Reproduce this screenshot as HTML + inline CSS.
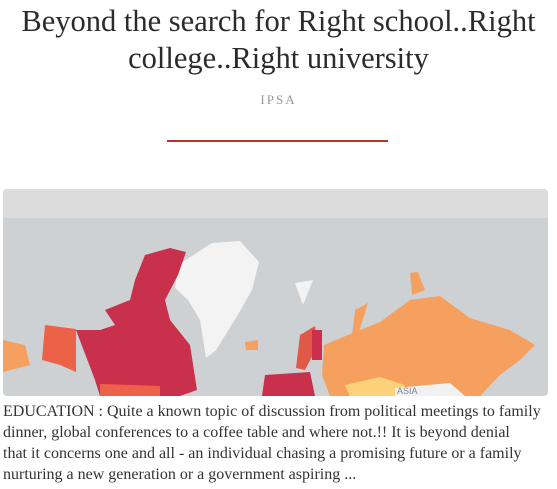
<!DOCTYPE html>
<html><head><meta charset="utf-8"><style>
body{margin:0;width:557px;height:489px;background:#fff;overflow:hidden;position:relative;font-family:"Liberation Serif",serif}
#title{position:absolute;left:0;top:3px;width:557px;text-align:center;font-size:30.5px;line-height:37px;color:#2b2b2b;margin:0;font-weight:normal}
#author{position:absolute;top:92px;width:557px;text-align:center;font-size:13px;letter-spacing:2px;color:#999}
#rule{position:absolute;left:167px;top:140px;width:221px;height:2px;background:#b8332c}
#map{position:absolute;left:3px;top:189px;width:545px;height:207px;border-radius:4px;overflow:hidden}
#desc{position:absolute;left:3px;top:401px;width:556px;font-size:16px;line-height:21px;color:#333;white-space:nowrap}
</style></head><body>
<h1 id="title">Beyond the search for Right school..Right college..Right university</h1>
<div id="author">IPSA</div>
<div id="rule"></div>
<div id="map">
<svg width="545" height="207" viewBox="3 189 545 207">
<rect x="3" y="189" width="545" height="207" fill="#cdd1d4"/>
<rect x="3" y="189" width="545" height="29" fill="#dcdcdc"/>
<path fill="#f3f3f3" d="M212,243 L240,241 L259,262 L252,290 L236,318 L216,350 L206,358 L200,320 L188,300 L175,288 L178,265 Z"/>
<path fill="#c8304c" d="M145,255 L170,248 L186,252 L178,275 L165,300 L170,320 L190,345 L197,390 L180,396 L100,396 L95,380 L76,330 L100,330 L115,325 L105,310 L130,300 L135,280 Z"/>
<path fill="#ec6248" d="M45,325 L76,329 L76,372 L60,365 L42,360 Z"/>
<path fill="#f6a060" d="M3,340 L25,345 L30,365 L3,372 Z"/>
<path fill="#ec6248" d="M100,384 L160,386 L160,396 L100,396 Z"/>
<path fill="#f6a060" d="M245,342 L258,340 L258,350 L246,350 Z"/>
<path fill="#e05848" d="M300,335 L315,326 L318,345 L305,370 L296,368 Z"/>
<path fill="#c8304c" d="M312,330 L322,330 L322,360 L312,360 Z"/>
<path fill="#c8304c" d="M265,375 L310,372 L315,396 L262,396 Z"/>
<path fill="#f6a060" d="M324,345 L360,330 L380,322 L410,300 L440,296 L470,318 L510,330 L535,345 L520,360 L500,375 L480,396 L330,396 L322,375 Z"/>
<path fill="#f6a060" d="M410,273 L418,272 L425,290 L412,295 Z M355,310 L368,303 L358,335 L352,335 Z"/>
<path fill="#fbd27a" d="M345,385 L380,377 L405,385 L400,396 L350,396 Z"/>
<path fill="#f1f1f1" d="M395,388 L450,383 L465,396 L395,396 Z"/>
<path fill="#f3f3f3" d="M295,283 L313,280 L303,305 Z"/>
<text x="397" y="394" font-family="Liberation Sans,sans-serif" font-size="9" fill="#7b8792">ASIA</text>
</svg>
</div>
<div id="desc">EDUCATION : Quite a known topic of discussion from political meetings to family<br>dinner, global conferences to a coffee table and where not.!! It is beyond denial<br>that it concerns one and all - an individual chasing a promising future or a family<br>nurturing a new generation or a government aspiring ...</div>
</body></html>
